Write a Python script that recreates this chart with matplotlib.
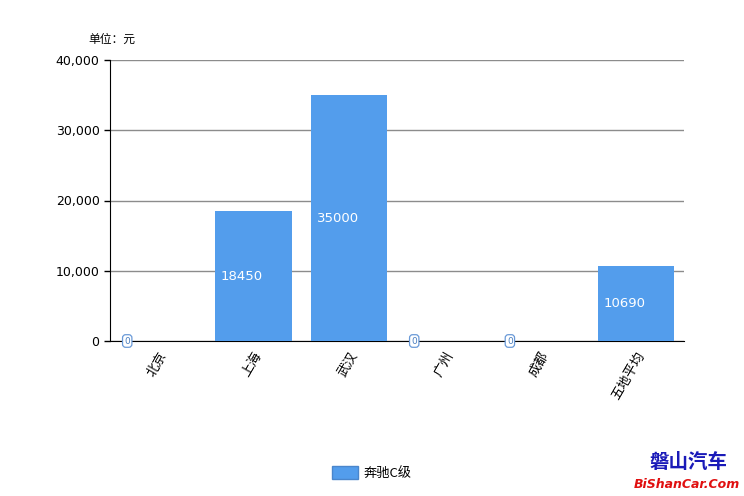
import matplotlib.pyplot as plt
from matplotlib.ticker import FuncFormatter
from matplotlib.patches import Patch

plt.rcParams['font.family'] = ['Noto Sans CJK SC', 'DejaVu Sans']

cities = ['北京', '上海', '武汉', '广州', '成都', '五地平均']
values = [0, 18450, 35000, 0, 0, 10690]
series_name = '奔驰C级'
bar_color = '#539DEC'

fig = plt.figure(figsize=(7.44, 4.96), dpi=100)
ax = fig.add_axes([110 / 744, 1 - 341 / 496, 574 / 744, 281 / 496])

x = list(range(len(cities)))
bars = ax.bar(x, values, width=0.8, color=bar_color, zorder=3, label=series_name)

# value labels, left side of each bar at half height
for xi, v in zip(x, values):
    if v == 0:
        ax.text(xi - 0.4 + 0.08, 0, '0', fontsize=6.5, color='#4a7fc0', ha='center', va='center',
                family='DejaVu Sans', zorder=4,
                bbox=dict(boxstyle='round,pad=0.2,rounding_size=0.35', fc='white', ec='#6a9ad8', lw=0.9))
    else:
        ax.text(xi - 0.4 + 0.06, v / 2, str(v), fontsize=9.5, color='white', ha='left', va='center',
                family='DejaVu Sans', zorder=4)

ax.set_xlim(-0.5, len(cities) - 0.5)
ax.set_ylim(0, 40000)
ax.set_yticks([0, 10000, 20000, 30000, 40000])
ax.yaxis.set_major_formatter(FuncFormatter(lambda v, p: f'{int(v):,}'))
ax.yaxis.grid(True, color='#8c8c8c', lw=1, zorder=1)
ax.set_axisbelow(True)

ax.set_xticks(x)
ax.set_xticklabels(cities, rotation=60, ha='right', va='top', rotation_mode='anchor', fontsize=9.5)
ax.tick_params(axis='x', length=0, pad=6)
ax.tick_params(axis='y', length=4, width=1, labelsize=9)
for lab in ax.get_yticklabels():
    lab.set_family('DejaVu Sans')

for s in ['top', 'right']:
    ax.spines[s].set_visible(False)
ax.spines['left'].set_color('black')
ax.spines['bottom'].set_color('black')

fig.text(88 / 744, 1 - 39 / 496, '单位：元', fontsize=8.5, ha='left', va='center')

handle = Patch(facecolor=bar_color, edgecolor='#4a86cc', label=series_name)
fig.legend(handles=[handle], loc='center', bbox_to_anchor=(372 / 744, 1 - 473 / 496), frameon=False,
           fontsize=9.5, handlelength=2.0, handleheight=1.1, handletextpad=0.4)

# watermark
fig.text(688 / 744, 1 - 463 / 496, '磐山汽车', fontsize=14, color='#1a1ab8', ha='center', va='center',
         fontweight='bold', style='italic')
fig.text(687 / 744, 1 - 484 / 496, 'BiShanCar.Com', fontsize=9, color='#e01010', ha='center', va='center',
         fontweight='bold', style='italic', family='DejaVu Sans')

fig.savefig('out.png', dpi=100)
